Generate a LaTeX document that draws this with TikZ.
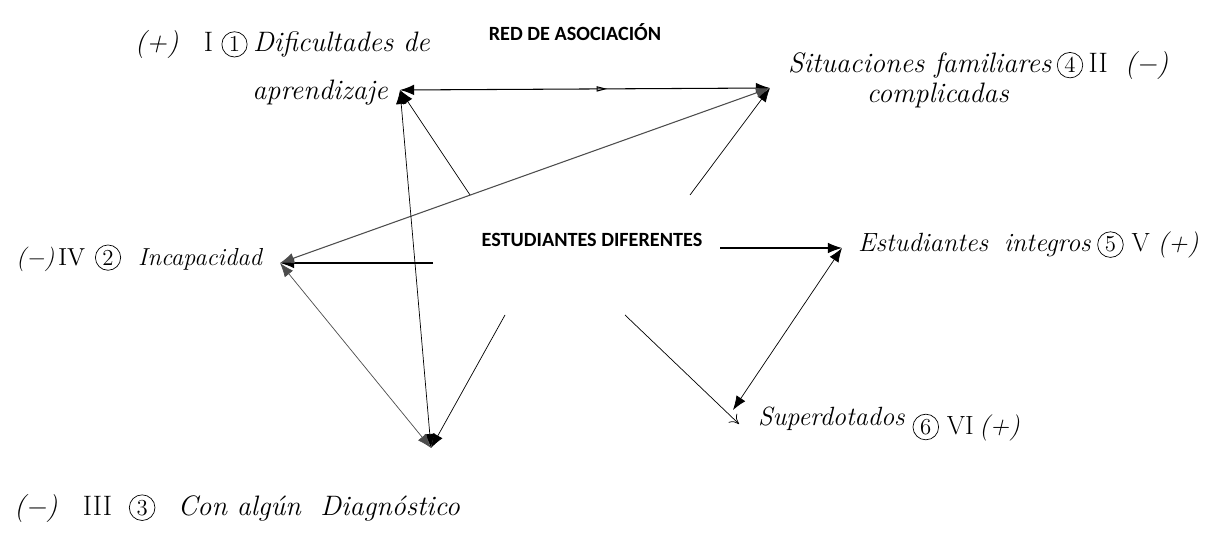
\documentclass[tikz,border=0pt]{standalone}
\usepackage{fontspec}
\newfontfamily\titulo{Carlito}
\usetikzlibrary{arrows.meta,decorations.markings}
\newcommand{\circulo}[1]{\tikz[baseline=(c.base)] \node[circle, draw, thin, inner sep=1.3pt, font=\upshape\fontsize{13}{13}\selectfont] (c) {#1};}
\newcommand{\romano}[1]{{\upshape #1}}
\begin{document}
\begin{tikzpicture}[x=0.02cm, y=-0.02cm]
\useasboundingbox (0,0) rectangle (1210,540);

% puntos de las seis categorias
\coordinate (d1) at (400, 90);
\coordinate (s4) at (770, 88);
\coordinate (i2) at (280, 263);
\coordinate (c3) at (431, 448);
\coordinate (e5) at (842, 248);
\coordinate (sp6) at (733, 410);

% extremos libres junto al centro
\coordinate (o1) at (470, 195);
\coordinate (o4) at (690, 195);
\coordinate (o2) at (433, 263);
\coordinate (o5) at (720, 248);
\coordinate (o6) at (625, 315);
\coordinate (o3) at (505, 315);
\coordinate (q6) at (739, 424);

\tikzset{every node/.style={font=\fontsize{16}{27}\selectfont\itshape, inner sep=1pt}}
\node (l1) [anchor=east, align=right] at (432, 68) {(+)\hspace{0.9em}\romano{I}\hspace{0.3em}\circulo{1}\hspace{0.2em}Dificultades de\\ aprendizaje\hspace*{1.5em}};
\node (l4) [anchor=west, align=left] at (786, 80) {Situaciones familiares\hspace{0.2em}\circulo{4}\hspace{0.2em}\romano{II}\hspace{0.6em}(−)\\[-10pt] \hspace*{2.8em}complicadas};
\node (l2) [anchor=east, font=\fontsize{14}{16}\selectfont\itshape] at (264, 258) {(−)\,\romano{IV}\hspace{0.4em}\circulo{2}\hspace{0.7em}Incapacidad};
\node (l3) [anchor=west] at (12, 508) {(−)\hspace{0.9em}\romano{III}\hspace{0.6em}\circulo{3}\hspace{0.8em}Con algún\hspace{0.7em}Diagnóstico};
\node (l5) [anchor=west, font=\fontsize{15}{17}\selectfont\itshape] at (856, 245) {Estudiantes\hspace{0.6em}integros\hspace{0.25em}\circulo{5}\hspace{0.3em}\romano{V}\hspace{0.3em}(+)};
\node (l6) [anchor=west, font=\fontsize{15}{17}\selectfont\itshape] at (756, 424) {Superdotados\hspace{0.3em}\raisebox{-5pt}{\circulo{6}\hspace{0.3em}\romano{VI}\hspace{0.2em}(+)}};

\tikzset{every node/.style={font=\titulo\bfseries\fontsize{11.5}{13}\selectfont}}
\node (red) at (575, 32) {RED DE ASOCIACIÓN};
\node (est) at (592, 240) {ESTUDIANTES DIFERENTES};

\tikzset{flecha/.style={-{Latex[length=8pt,width=6pt]}, thin}};
\tikzset{doble/.style={{Latex[length=8pt,width=6pt]}-{Latex[length=8pt,width=6pt]}, thin}};
\tikzset{abierta/.style={-{To[length=5pt,width=7pt]}, thin}};
\tikzset{marca/.style={postaction={decorate}, decoration={markings, mark=at position 0.56 with {\arrow{Triangle[open,length=6pt,width=3pt]}}}}};
\path (o1) edge [flecha] (d1);
\path (o4) edge [flecha] (s4);
\path (o2) edge [flecha, semithick] (i2);
\path (o5) edge [flecha, semithick] (e5);
\path (o6) edge [abierta] (q6);
\path (o3) edge [flecha] (c3);
\path (d1) edge [doble, marca, semithick] (s4);
\path (i2) edge [doble, black!70, semithick] (s4);
\path (d1) edge [doble] (c3);
\path (i2) edge [doble, black!70] (c3);
\path (sp6) edge [doble] (e5);
\end{tikzpicture}
\end{document}
